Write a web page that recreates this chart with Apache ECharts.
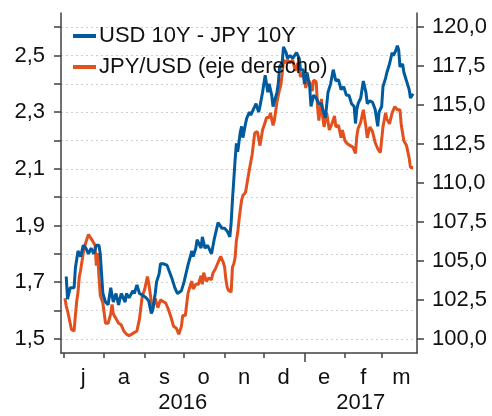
<!DOCTYPE html>
<html><head><meta charset="utf-8">
<script src="https://cdn.jsdelivr.net/npm/echarts@6/dist/echarts.min.js"></script>
<style>html,body{margin:0;padding:0;background:#fff}#c{width:492px;height:416px}</style>
</head><body><div id="c"></div>
<script>
const spreadName = 'USD 10Y - JPY 10Y';
const fxName = 'JPY/USD (eje derecho)';
const spreadDates = ['2016-07-03','2016-07-04','2016-07-06','2016-07-09','2016-07-10','2016-07-12','2016-07-14','2016-07-16','2016-07-18','2016-07-20','2016-07-22','2016-07-24','2016-07-26','2016-07-28','2016-07-29','2016-07-31',
'2016-08-02','2016-08-04','2016-08-06','2016-08-08','2016-08-10','2016-08-12','2016-08-14','2016-08-15','2016-08-17','2016-08-18','2016-08-20','2016-08-23','2016-08-24','2016-08-26','2016-08-28','2016-08-30',
'2016-09-02','2016-09-04','2016-09-06','2016-09-07','2016-09-09','2016-09-10','2016-09-12','2016-09-13','2016-09-15','2016-09-18','2016-09-19','2016-09-22','2016-09-24','2016-09-26','2016-09-29',
'2016-10-01','2016-10-04','2016-10-07','2016-10-08','2016-10-10','2016-10-11','2016-10-14','2016-10-15','2016-10-17','2016-10-19','2016-10-22','2016-10-24','2016-10-27','2016-10-30',
'2016-11-01','2016-11-03','2016-11-05','2016-11-06','2016-11-07','2016-11-09','2016-11-10','2016-11-11','2016-11-13','2016-11-14','2016-11-15','2016-11-17','2016-11-18','2016-11-20','2016-11-21','2016-11-23','2016-11-25','2016-11-27','2016-11-28','2016-11-30',
'2016-12-02','2016-12-04','2016-12-05','2016-12-07','2016-12-08','2016-12-11','2016-12-12','2016-12-13','2016-12-15','2016-12-16','2016-12-18','2016-12-19','2016-12-21','2016-12-23','2016-12-26','2016-12-28','2016-12-29','2016-12-31',
'2017-01-01','2017-01-03','2017-01-05','2017-01-06','2017-01-08','2017-01-10','2017-01-12','2017-01-14','2017-01-15','2017-01-17','2017-01-19','2017-01-21','2017-01-23','2017-01-25','2017-01-27','2017-01-29','2017-01-31',
'2017-02-02','2017-02-04','2017-02-06','2017-02-08','2017-02-09','2017-02-10','2017-02-11','2017-02-13','2017-02-15','2017-02-17','2017-02-18','2017-02-20','2017-02-22','2017-02-24','2017-02-26','2017-02-27',
'2017-03-01','2017-03-02','2017-03-04','2017-03-05','2017-03-07','2017-03-09','2017-03-10','2017-03-12','2017-03-13','2017-03-14','2017-03-15','2017-03-17','2017-03-18','2017-03-20','2017-03-22','2017-03-23','2017-03-25'];
const spreadValues = [1.72,1.64,1.68,1.68,1.75,1.81,1.79,1.83,1.82,1.80,1.82,1.80,1.83,1.83,1.80,1.66,
1.63,1.62,1.68,1.63,1.66,1.62,1.66,1.66,1.63,1.66,1.645,1.67,1.66,1.69,1.66,1.655,
1.645,1.634,1.59,1.60,1.66,1.70,1.73,1.765,1.765,1.76,1.765,1.71,1.68,1.66,1.67,
1.70,1.76,1.81,1.79,1.82,1.85,1.82,1.86,1.82,1.83,1.80,1.85,1.91,1.89,
1.89,1.88,1.86,1.91,1.99,2.13,2.19,2.16,2.23,2.25,2.21,2.26,2.28,2.30,2.29,2.31,2.33,2.30,2.32,2.37,
2.43,2.37,2.40,2.36,2.32,2.37,2.40,2.46,2.475,2.53,2.51,2.49,2.50,2.49,2.51,2.49,2.45,2.45,
2.40,2.44,2.39,2.32,2.36,2.35,2.33,2.33,2.31,2.28,2.37,2.40,2.45,2.41,2.415,2.38,2.39,
2.36,2.36,2.33,2.32,2.26,2.31,2.33,2.35,2.41,2.37,2.33,2.34,2.335,2.31,2.25,2.30,
2.32,2.39,2.42,2.44,2.47,2.51,2.50,2.52,2.535,2.52,2.46,2.47,2.44,2.41,2.38,2.35,2.365];
const fxDates = ['2016-07-02','2016-07-03','2016-07-04','2016-07-06','2016-07-07','2016-07-08','2016-07-09','2016-07-10','2016-07-11','2016-07-12','2016-07-13','2016-07-14','2016-07-16','2016-07-18','2016-07-20','2016-07-21','2016-07-23','2016-07-24','2016-07-25','2016-07-26','2016-07-27','2016-07-28','2016-07-29','2016-07-31',
'2016-08-02','2016-08-04','2016-08-06','2016-08-07','2016-08-08','2016-08-10','2016-08-12','2016-08-14','2016-08-16','2016-08-18','2016-08-20','2016-08-22','2016-08-24','2016-08-26','2016-08-28','2016-08-30',
'2016-09-01','2016-09-02','2016-09-03','2016-09-04','2016-09-06','2016-09-07','2016-09-09','2016-09-11','2016-09-13','2016-09-15','2016-09-17','2016-09-19','2016-09-21','2016-09-23','2016-09-25','2016-09-27','2016-09-28','2016-09-29','2016-09-30',
'2016-10-02','2016-10-04','2016-10-06','2016-10-07','2016-10-08','2016-10-10','2016-10-12','2016-10-13','2016-10-14','2016-10-15','2016-10-16','2016-10-18','2016-10-20','2016-10-22','2016-10-23','2016-10-25','2016-10-27','2016-10-29','2016-10-31',
'2016-11-01','2016-11-02','2016-11-03','2016-11-04','2016-11-05','2016-11-06','2016-11-07','2016-11-08','2016-11-09','2016-11-10','2016-11-11','2016-11-12','2016-11-13','2016-11-14','2016-11-15','2016-11-17','2016-11-18','2016-11-19','2016-11-20','2016-11-22','2016-11-24','2016-11-26','2016-11-28','2016-11-29','2016-11-30',
'2016-12-02','2016-12-03','2016-12-05','2016-12-06','2016-12-08','2016-12-09','2016-12-11','2016-12-12','2016-12-13','2016-12-14','2016-12-15','2016-12-16','2016-12-18','2016-12-19','2016-12-21','2016-12-23','2016-12-25','2016-12-27','2016-12-29','2016-12-31',
'2017-01-02','2017-01-03','2017-01-05','2017-01-07','2017-01-08','2017-01-10','2017-01-11','2017-01-12','2017-01-14','2017-01-15','2017-01-16','2017-01-18','2017-01-20','2017-01-22','2017-01-24','2017-01-25','2017-01-27','2017-01-29','2017-01-30',
'2017-02-01','2017-02-03','2017-02-05','2017-02-07','2017-02-09','2017-02-10','2017-02-11','2017-02-13','2017-02-15','2017-02-17','2017-02-18','2017-02-20','2017-02-22','2017-02-24','2017-02-26','2017-02-28',
'2017-03-02','2017-03-04','2017-03-05','2017-03-07','2017-03-09','2017-03-11','2017-03-13','2017-03-15','2017-03-16','2017-03-18','2017-03-20','2017-03-22','2017-03-23','2017-03-25'];
const fxValues = [102.6,102.1,101.8,101.0,100.6,100.6,100.5,101.5,102.4,103.0,104.0,104.4,105.5,106.2,106.7,106.6,106.3,106.2,106.0,104.7,105.5,104.0,102.8,102.3,
101.0,101.0,101.6,102.2,101.6,101.3,101.0,100.9,100.5,100.3,100.2,100.3,100.4,100.5,101.3,102.7,
103.2,103.6,104.0,103.6,102.4,101.9,102.6,102.0,102.5,102.4,102.3,101.9,101.4,100.8,100.7,100.3,100.4,100.8,101.5,
101.5,102.9,103.5,103.7,103.2,103.5,103.5,103.6,104.05,103.5,104.25,103.7,103.9,103.8,104.2,104.5,104.9,105.3,104.9,
104.6,103.8,103.3,103.1,103.0,103.0,104.6,104.8,105.2,106.3,106.8,107.6,108.3,108.9,109.2,109.4,109.5,110.4,110.9,111.8,113.2,113.3,112.4,112.9,113.4,
113.9,114.2,114.2,114.5,113.7,114.0,115.2,115.3,116.0,116.3,117.0,117.9,117.7,117.9,117.7,117.9,117.2,117.7,116.8,117.1,
116.1,116.6,116.5,115.9,116.6,116.5,114.9,114.0,115.4,114.2,113.6,114.5,113.4,113.8,114.3,113.6,113.7,112.9,113.4,
112.7,112.5,112.4,112.3,111.9,113.0,113.5,113.9,114.7,113.6,112.9,113.6,113.3,112.6,112.2,111.95,
113.6,114.5,114.1,113.8,114.5,114.9,114.7,114.7,113.7,112.7,112.4,111.6,111.0,111.0];

const xStart = '2016-06-29', xEnd = '2017-03-28';
const monthStarts = ['2016-07-01','2016-08-01','2016-09-01','2016-10-01','2016-11-01','2016-12-01','2017-01-01','2017-02-01','2017-03-01'];
const yearBreak = ['2017-01-01'];
const monthMids = ['2016-07-16','2016-08-16','2016-09-16','2016-10-16','2016-11-16','2016-12-16','2017-01-16','2017-02-15','2017-03-16'];
const monthLabels = ['j','a','s','o','n','d','e','f','m'];
const yearMids = ['2016-09-30','2017-02-13'];
const yearLabels = ['2016','2017'];
const leftTicks = [1.5,1.6,1.7,1.8,1.9,2.0,2.1,2.2,2.3,2.4,2.5,2.6];
const leftLabels = [1.5,1.7,1.9,2.1,2.3,2.5];
const rightTicks = [100,102.5,105,107.5,110,112.5,115,117.5,120];

const t = s => Date.parse(s);
const FONT = 'Liberation Sans';
const AX = '#404040';
const BLUE = '#005a9e', RED = '#e2501d';
// right axis aligned so that 1.5 <-> 100 and 2.6 <-> 120
const lMin = 1.45, lMax = 2.65;
const k = (120 - 100) / (2.6 - 1.5);
const rMin = 100 + (lMin - 1.5) * k, rMax = 100 + (lMax - 1.5) * k;
const comma = (v, d) => v.toFixed(d).replace('.', ',');

const midTs = monthMids.map(t), yearTs = yearMids.map(t);
const baseX = {type:'value', min:t(xStart), max:t(xEnd), position:'bottom', splitLine:{show:false}};

const chart = echarts.init(document.getElementById('c'), null, {renderer:'canvas'});
chart.setOption({
  animation:false,
  textStyle:{fontFamily:FONT},
  grid:{left:61, right:75, top:13, bottom:63, containLabel:false, outerBoundsMode:'none'},
  legend:{
    orient:'vertical', left:68, top:20, itemWidth:23, itemHeight:4, itemGap:9, icon:'rect',
    textStyle:{fontFamily:FONT, fontSize:22, color:'#111', padding:[0,0,0,-2]},
    data:[spreadName, fxName]
  },
  xAxis:[
    Object.assign({}, baseX, {
      axisLine:{show:true, lineStyle:{color:AX, width:1.5}},
      axisTick:{show:true, length:5, customValues:monthStarts.map(t), lineStyle:{color:AX, width:1.5}},
      axisLabel:{show:true, customValues:midTs, margin:14, fontSize:22, color:'#111', fontFamily:FONT,
        formatter:v => monthLabels[midTs.indexOf(v)] || ''}
    }),
    Object.assign({}, baseX, {
      axisLine:{show:false},
      axisTick:{show:true, length:9, customValues:yearBreak.map(t), lineStyle:{color:AX, width:1.5}},
      axisLabel:{show:true, customValues:yearTs, margin:39, fontSize:22, color:'#111', fontFamily:FONT,
        formatter:v => yearLabels[yearTs.indexOf(v)] || ''}
    })
  ],
  yAxis:[
    {type:'value', min:lMin, max:lMax, position:'left',
     axisLine:{show:true, lineStyle:{color:AX, width:1.5}},
     axisTick:{show:true, length:7, customValues:leftTicks, lineStyle:{color:AX, width:1.5}},
     axisLabel:{customValues:leftLabels, margin:16, fontSize:22, color:'#111', fontFamily:FONT, formatter:v => comma(v,1)},
     splitLine:{show:true, lineStyle:{color:'#cfcfcf', type:[2,3], width:1}}},
    {type:'value', min:rMin, max:rMax, position:'right',
     axisLine:{show:true, lineStyle:{color:AX, width:1.5}},
     axisTick:{show:true, length:7, customValues:rightTicks, lineStyle:{color:AX, width:1.5}},
     axisLabel:{customValues:rightTicks, margin:15, fontSize:22, color:'#111', fontFamily:FONT, formatter:v => comma(v,1)},
     splitLine:{show:false}}
  ],
  series:[
    {name:spreadName, type:'line', yAxisIndex:0, xAxisIndex:0, showSymbol:false, z:3,
     color:BLUE, lineStyle:{color:BLUE, width:3},
     data:spreadDates.map((d,i) => [t(d), spreadValues[i]])},
    {name:fxName, type:'line', yAxisIndex:1, xAxisIndex:0, showSymbol:false, z:2,
     color:RED, lineStyle:{color:RED, width:3},
     data:fxDates.map((d,i) => [t(d), fxValues[i]])}
  ]
});
</script></body></html>
